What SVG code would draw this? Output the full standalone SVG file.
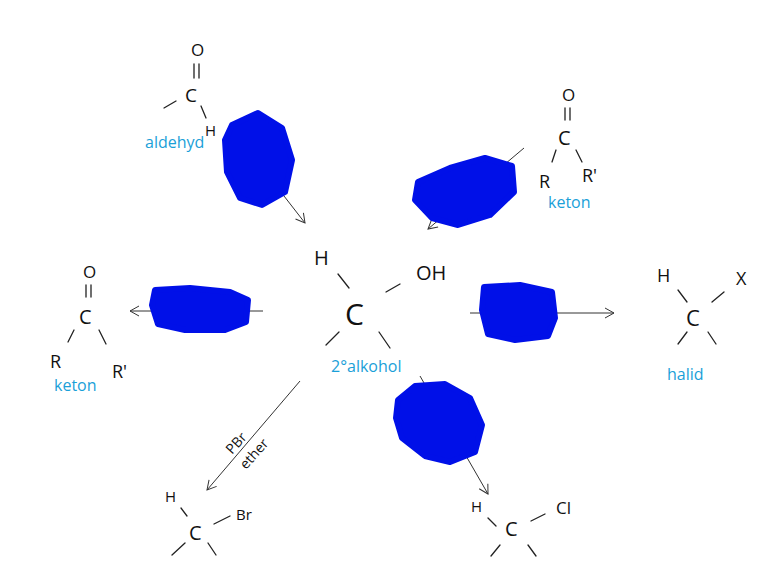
<svg xmlns="http://www.w3.org/2000/svg" width="769" height="579" viewBox="0 0 769 579">
<style>
.t{font-family:"Open Sans","Liberation Sans",sans-serif;fill:#111;font-weight:400}
.c{font-family:"Open Sans","Liberation Sans",sans-serif;fill:#1aa0d8;font-size:16px}
.b{stroke:#222;stroke-width:1.3;fill:none;stroke-linecap:round}
.a{stroke:#333;stroke-width:1;fill:none}
.s{fill:#0010e8;stroke:#0010e8;stroke-width:6;stroke-linejoin:round}
</style>
<defs><marker id="ar" markerWidth="12" markerHeight="12" refX="10" refY="6" orient="auto" markerUnits="userSpaceOnUse"><path d="M1,1 L10,6 L1,11" class="a"/></marker></defs>
<rect width="769" height="579" fill="#fff"/>
<g id="connectors">
<line x1="270" y1="178" x2="305" y2="223" class="a" marker-end="url(#ar)"/>
<line x1="524" y1="148" x2="428" y2="229" class="a" marker-end="url(#ar)"/>
<line x1="263" y1="311" x2="130" y2="311" class="a" marker-end="url(#ar)"/>
<line x1="470" y1="313" x2="614" y2="313" class="a" marker-end="url(#ar)"/>
<line x1="300" y1="381" x2="207" y2="490" class="a" marker-end="url(#ar)"/>
<line x1="420" y1="376" x2="488" y2="494" class="a" marker-end="url(#ar)"/>
<text class="t" font-size="14" transform="translate(232,455) rotate(-48)">PBr</text>
<text class="t" font-size="14" transform="translate(246,470) rotate(-48)">ether</text>
</g>
<g id="scribbles">
<path class="s" d="M232,125 L258,113 L282,128 L292,160 L285,192 L262,205 L240,198 L227,172 L225,140 Z"/>
<path class="s" d="M418,182 L450,168 L485,158 L512,166 L514,192 L490,215 L458,225 L432,218 L415,200 Z"/>
<path class="s" d="M155,290 L190,288 L230,292 L248,300 L246,322 L225,330 L185,330 L158,324 L152,305 Z"/>
<path class="s" d="M484,287 L520,285 L552,292 L555,318 L548,336 L515,340 L488,334 L482,310 Z"/>
<path class="s" d="M398,400 L415,386 L445,384 L470,398 L482,425 L475,452 L450,462 L425,456 L402,438 L396,418 Z"/>
</g>
<g id="aldehyd">
<text class="t" x="191" y="56" font-size="17">O</text>
<path class="b" d="M194,64 L194,78 M199,64 L199,78 M164,108 L176,101 M201,106 L206,118"/>
<text class="t" x="185" y="102" font-size="19">C</text>
<text class="t" x="205" y="136" font-size="15">H</text>
<text class="c" x="145" y="148" font-size="15">aldehyd</text>
</g>
<g id="keton1">
<text class="t" x="562" y="101" font-size="17">O</text>
<path class="b" d="M565,108 L565,120 M570,108 L570,120 M556,150 L552,162 M576,150 L582,162"/>
<text class="t" x="558" y="145" font-size="20">C</text>
<text class="t" x="539" y="188" font-size="18">R</text>
<text class="t" x="582" y="182" font-size="18">R'</text>
<text class="c" x="548" y="208" font-size="15">keton</text>
</g>
<g id="alkohol">
<text class="t" x="314" y="265" font-size="20">H</text>
<path class="b" d="M338,274 L349,288 M386,292 L400,284 M339,332 L326,345 M379,332 L390,348"/>
<text class="t" x="345" y="325" font-size="30">C</text>
<text class="t" x="416" y="280" font-size="20">OH</text>
<text class="c" x="331" y="372" font-size="16">2°alkohol</text>
</g>
<g id="keton2">
<text class="t" x="83" y="278" font-size="17">O</text>
<path class="b" d="M86,285 L86,297 M91,285 L91,297 M74,330 L68,342 M99,330 L106,344"/>
<text class="t" x="79" y="324" font-size="20">C</text>
<text class="t" x="50" y="368" font-size="18">R</text>
<text class="t" x="112" y="378" font-size="18">R'</text>
<text class="c" x="54" y="391" font-size="15">keton</text>
</g>
<g id="halid">
<text class="t" x="657" y="282" font-size="18">H</text>
<path class="b" d="M678,290 L687,302 M712,302 L724,292 M687,332 L678,344 M708,332 L716,344"/>
<text class="t" x="686" y="326" font-size="22">C</text>
<text class="t" x="736" y="285" font-size="18">X</text>
<text class="c" x="667" y="380" font-size="16">halid</text>
</g>
<g id="bromid">
<text class="t" x="165" y="502" font-size="15">H</text>
<path class="b" d="M181,508 L187,516 M214,524 L230,516 M185,543 L172,555 M208,543 L216,555"/>
<text class="t" x="189" y="540" font-size="20">C</text>
<text class="t" x="236" y="520" font-size="15">Br</text>
</g>
<g id="chlorid">
<text class="t" x="471" y="512" font-size="15">H</text>
<path class="b" d="M488,518 L496,526 M531,521 L545,514 M500,545 L491,556 M528,545 L536,556"/>
<text class="t" x="505" y="536" font-size="20">C</text>
<text class="t" x="556" y="514" font-size="17">Cl</text>
</g>
</svg>
